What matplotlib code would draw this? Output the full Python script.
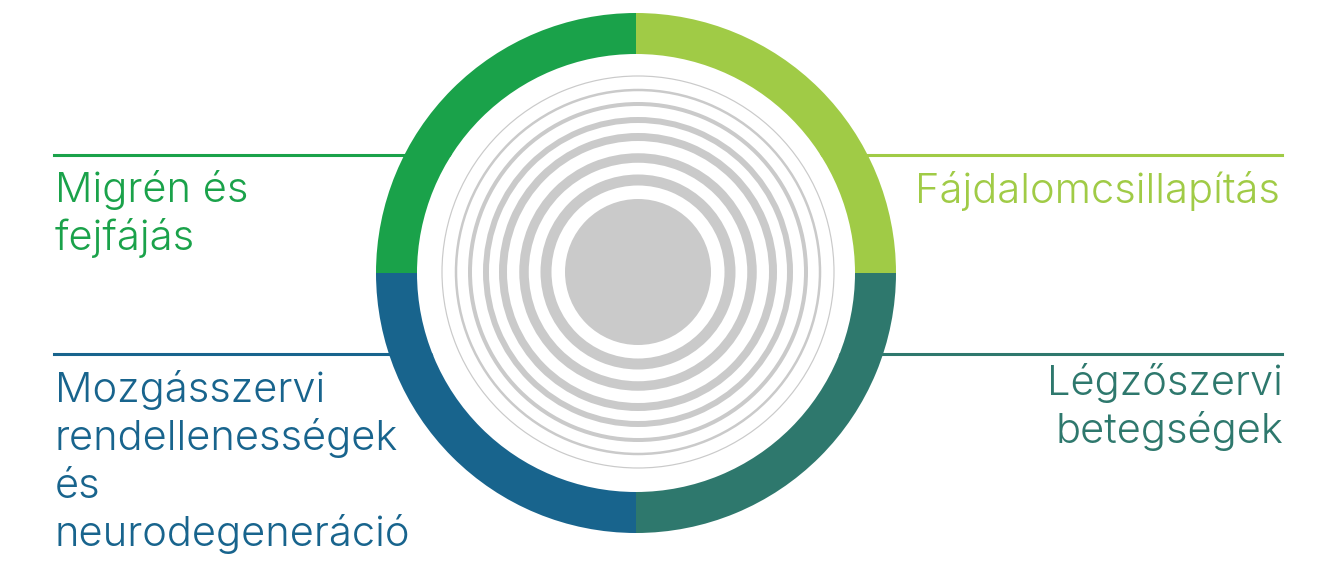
import matplotlib
matplotlib.use('Agg')
import matplotlib.pyplot as plt
from matplotlib.patches import Circle, Wedge

# categories, in pie order (counter-clockwise from 3 o'clock)
categories = ['Fájdalomcsillapítás', 'Migrén és\nfejfájás',
              'Mozgásszervi\nrendellenességek\nés\nneurodegeneráció',
              'Légzőszervi\nbetegségek']
shares = [1, 1, 1, 1]
colors = ['#a0cb46', '#1aa24a', '#18648d', '#2e786d']

# decorative grey rings in the middle (radius, width)
ring_radii = [92, 114, 135, 152, 168, 182, 196]
ring_widths = [11, 9.5, 8, 6, 4, 2.5, 1.2]
core_radius = 73

W, H = 1321, 565
fig = plt.figure(figsize=(W / 100, H / 100), dpi=100)
ax = fig.add_axes([0, 0, 1, 1])

cx, cy = 636, H - 273
R_out, R_in = 260, 219

ax.pie(shares, colors=colors, startangle=0, counterclock=True,
       radius=R_out, center=(cx, cy),
       wedgeprops=dict(width=R_out - R_in, linewidth=0, zorder=3))

# white inside of the donut hides the leader lines
ax.add_patch(Circle((cx, cy), R_in, color='white', zorder=2.5, lw=0))

for r, w in zip(ring_radii, ring_widths):
    ax.add_patch(Wedge((cx + 2, cy + 1), r + w / 2, 0, 360, width=w,
                       color='#cacaca', lw=0, zorder=4))
ax.add_patch(Circle((cx + 2, cy + 1), core_radius, color='#cacaca', lw=0, zorder=4))

# leader lines + labels
font = 'Inter'
fs = 30
ls = 48  # line spacing in px

ax.plot([54, cx], [H - 155, H - 155], color=colors[1], lw=2.2, zorder=1)
ax.plot([cx, 1282], [H - 155, H - 155], color=colors[0], lw=2.2, zorder=1)
ax.plot([54, cx], [H - 354, H - 354], color=colors[2], lw=2.2, zorder=1)
ax.plot([cx, 1282], [H - 354, H - 354], color=colors[3], lw=2.2, zorder=1)

def put(text, x, y0, ha, color):
    for i, line in enumerate(text.split('\n')):
        ax.text(x, H - (y0 + i * ls), line, ha=ha, va='baseline',
                fontsize=fs, family=font, weight=300, color=color)

put(categories[1], 55, 202, 'left', colors[1])
put(categories[0], 1280, 203, 'right', colors[0])
put(categories[2], 55, 402, 'left', colors[2])
put(categories[3], 1283, 395, 'right', colors[3])

ax.set_xlim(0, W)
ax.set_ylim(0, H)
ax.set_aspect('auto')
ax.set_axis_off()

fig.savefig('out.png', dpi=100, facecolor='white')
